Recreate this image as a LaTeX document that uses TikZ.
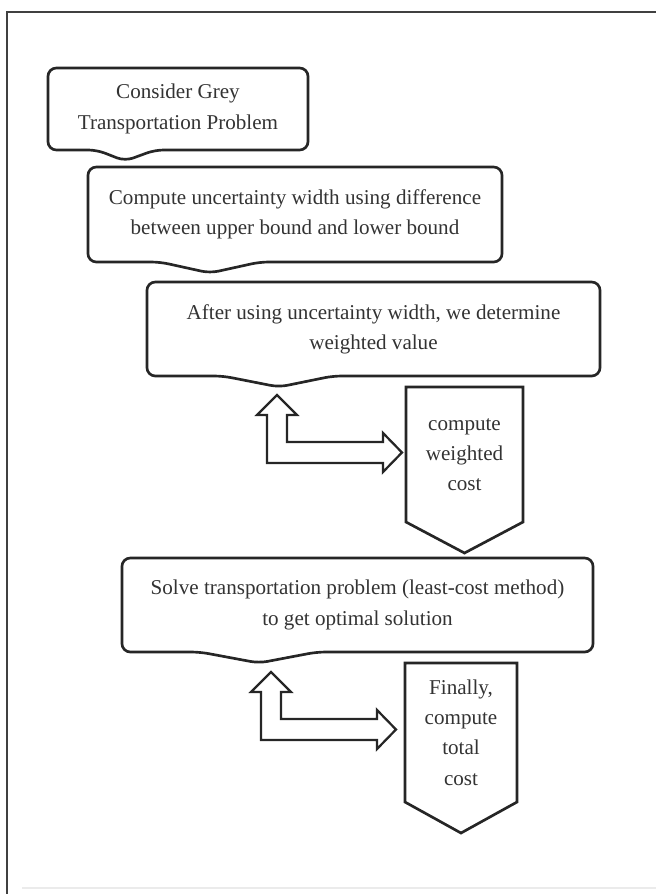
\documentclass[tikz,border=0pt]{standalone}
\usepackage{fontspec}
\setmainfont{Liberation Serif}
\usetikzlibrary{calc}

% callout box: name, pointer start, pointer tip, pointer end (offsets from south west)
\newcommand{\callout}[4]{%
  \draw[boxline] (#1.north) -- (#1.north east) -- (#1.south east)
    -- ($(#1.south west)+(#4,0)$) -- ($(#1.south west)+(#3,11)$)
    -- ($(#1.south west)+(#2,0)$) -- (#1.south west) -- (#1.north west) -- cycle;}
% chevron box pointing down
\newcommand{\chevron}[1]{%
  \draw[boxline, rounded corners=0pt] (#1.north west) -- (#1.north east) -- (#1.south east)
    -- ($(#1.south)+(0,31)$) -- (#1.south west) -- cycle;}

\begin{document}
\begin{tikzpicture}[x=0.025cm, y=-0.025cm,
  boxline/.style={line width=1.9pt, draw=black!85, rounded corners=6pt},
  arrowline/.style={line width=1.6pt, draw=black!85, fill=white},
  txt/.style={inner sep=0pt, outer sep=0pt, align=center, text=black!80,
    font=\fontsize{15}{21.5}\selectfont},
  biarrow/.pic={\draw[arrowline] (10,-68) -- (30,-48) -- (20,-48) -- (20,-21) -- (116,-21)
    -- (116,-30) -- (135,-10.5) -- (116,9) -- (116,0) -- (0,0) -- (0,-48) -- (-10,-48) -- cycle;}]
  \useasboundingbox (0,0) rectangle (656,894);
  % frame
  \draw[line width=1.4pt, black!75] (7,894) -- (7,12) -- (656,12);
  \draw[line width=0.8pt, black!8] (22,888) -- (656,888);

  \node[txt, minimum width=6.5cm, minimum height=2.05cm] (b1) at (178,109) {Consider Grey\\Transportation Problem};
  \node[txt, minimum width=10.35cm, minimum height=2.375cm] (b2) at (295,214.5) {Compute uncertainty width using difference\\between upper bound and lower bound};
  \node[txt, minimum width=11.325cm, minimum height=2.35cm] (b3) at (373.5,329) {After using uncertainty width, we determine\\weighted value};
  \node[txt, minimum width=2.925cm, minimum height=3.375cm] (c1) at (464.5,454.5) {compute\\weighted\\cost};
  \node[txt, minimum width=11.775cm, minimum height=2.35cm] (b4) at (357.5,605) {Solve transportation problem (least-cost method)\\to get optimal solution};
  \node[txt, minimum width=2.8cm, minimum height=3.475cm] (c2) at (461,732.5) {Finally,\\compute\\total\\cost};

  \callout{b1}{49}{77}{107}
  \callout{b2}{72}{122}{172}
  \callout{b3}{76}{132}{186}
  \callout{b4}{78}{137}{195}
  \chevron{c1}
  \chevron{c2}

  \pic at (267,463) {biarrow};
  \pic at (261,740) {biarrow};
\end{tikzpicture}
\end{document}
